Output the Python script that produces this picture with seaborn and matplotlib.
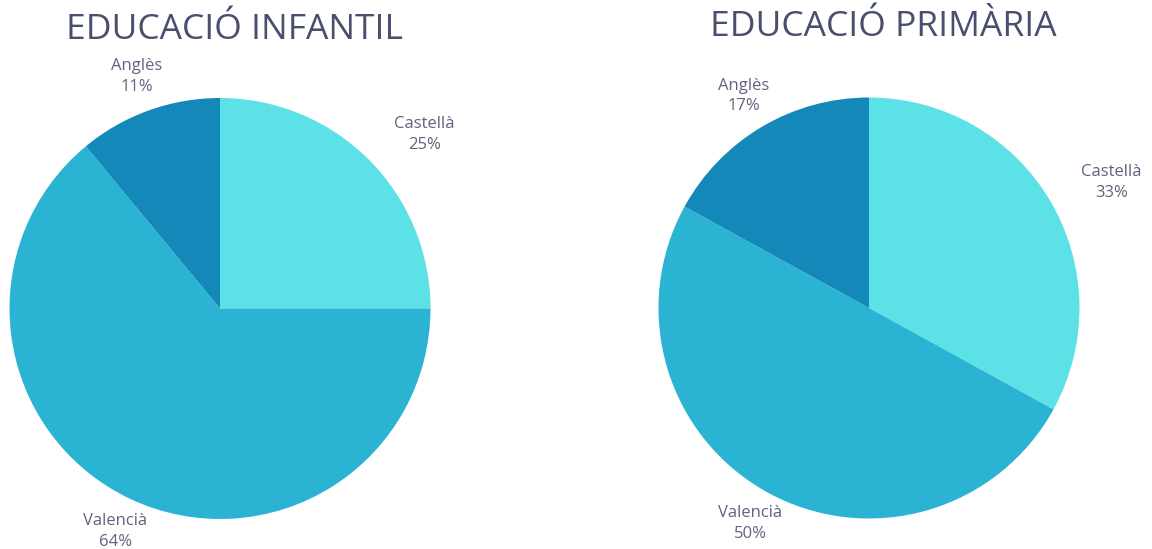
import numpy as np
import matplotlib
matplotlib.use("Agg")
import matplotlib.pyplot as plt
import seaborn as sns

categories = ["Castellà", "Valencià", "Anglès"]
infantil = [25, 64, 11]
primaria = [33, 50, 17]
titles = ["EDUCACIÓ INFANTIL", "EDUCACIÓ PRIMÀRIA"]
colors = ["#5ce1e6", "#2ab3d3", "#1488b8"]

sns.set_theme(style="white")
plt.rcParams['font.family'] = ['Open Sans', 'DejaVu Sans']

W, H = 1152, 549
fig = plt.figure(figsize=(W / 100, H / 100), dpi=100)

def px_axes(cx, cy, r):
    return fig.add_axes([(cx - r) / W, (H - cy - r) / H, 2 * r / W, 2 * r / H])

specs = [
    (infantil, 220, 308.5, 210.5, titles[0], 235, 30),
    (primaria, 869, 308, 210.5, titles[1], 883, 27),
]

for vals, cx, cy, r, title, tx, ty in specs:
    ax = px_axes(cx, cy, r)
    wedges, _ = ax.pie(vals, colors=colors, startangle=90, counterclock=False,
                       radius=1.0, wedgeprops=dict(linewidth=0))
    ax.set_xlim(-1, 1)
    ax.set_ylim(-1, 1)
    ax.set_aspect('equal')
    ax.axis('off')
    for w, cat, v in zip(wedges, categories, vals):
        ang = np.deg2rad((w.theta1 + w.theta2) / 2)
        x, y = np.cos(ang), np.sin(ang)
        d = 1.17
        if abs(x) < 0.55:
            ha = 'center'
        else:
            ha = 'left' if x > 0 else 'right'
        ax.text(d * x, d * y, f"{cat}\n{v}%", ha=ha, va='center',
                multialignment='center',
                fontsize=12, color='#5f637d', linespacing=1.4,
                clip_on=False)
    fig.text(tx / W, 1 - ty / H, title, ha='center', va='center',
             fontsize=25.5, color='#4a4f6e')

fig.savefig("out.png", dpi=100)
